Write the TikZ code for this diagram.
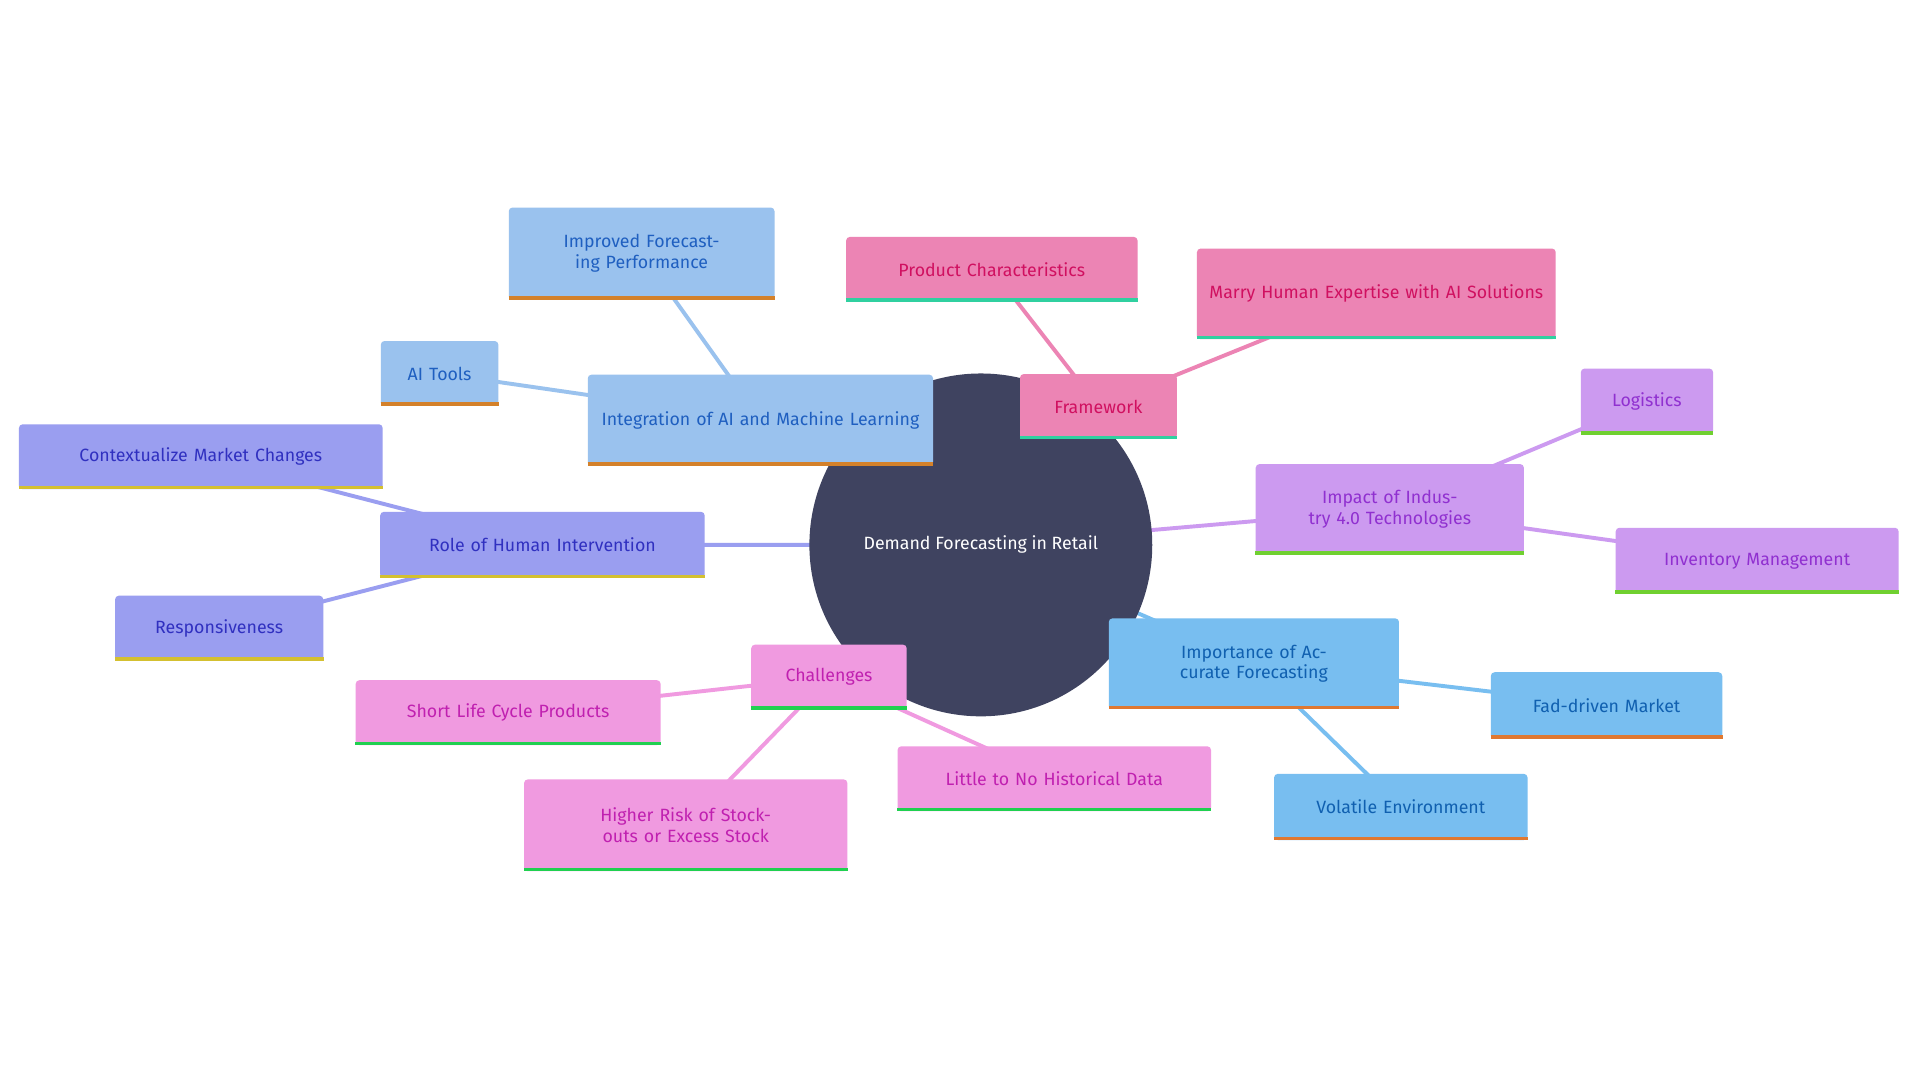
\documentclass[tikz,border=0pt]{standalone}
\usepackage{fontspec}
\setmainfont{Fira Sans}
\usetikzlibrary{backgrounds}
\definecolor{cdark}{HTML}{3F4360}
\definecolor{fA}{HTML}{9AC2EE}\definecolor{tA}{HTML}{1F5FC0}\definecolor{bA}{HTML}{D4812A}
\definecolor{fB}{HTML}{9A9EF0}\definecolor{tB}{HTML}{3030C0}\definecolor{bB}{HTML}{D4C030}
\definecolor{fC}{HTML}{EC84B4}\definecolor{tC}{HTML}{D01060}\definecolor{bC}{HTML}{30D0A0}
\definecolor{fD}{HTML}{CC9AF0}\definecolor{tD}{HTML}{9030D0}\definecolor{bD}{HTML}{70D030}
\definecolor{fE}{HTML}{78BEF0}\definecolor{tE}{HTML}{1060B0}\definecolor{bE}{HTML}{E07830}
\definecolor{fF}{HTML}{F09AE0}\definecolor{tF}{HTML}{C020B0}\definecolor{bF}{HTML}{20D050}
\newcommand\mnode[8]{%
 \node[box, fill=f#6, text=t#6, minimum width=#4pt, minimum height=#5pt, text width=#4pt-16pt] (#1) at (#2,#3) {#7};
 \draw[line width=3pt, b#6] ([yshift=1.5pt]#1.south west) -- ([yshift=1.5pt]#1.south east);}
\begin{document}
\begin{tikzpicture}[x=1pt,y=-1pt,
 box/.style={rounded corners=3pt, inner sep=0pt, align=center, font=\fontsize{14.5}{17}\selectfont},
 edge/.style={line width=3.2pt}]
\useasboundingbox (0,0) rectangle (1568,882);
\fill[white] (0,0) rectangle (1568,882);
\coordinate (root) at (801,445);
% nodes coordinates for edges
\coordinate (A) at (621,343); \coordinate (A1) at (524,207); \coordinate (A2) at (359,305);
\coordinate (B) at (443,445); \coordinate (B1) at (164,373); \coordinate (B2) at (179,513);
\coordinate (C) at (897,332); \coordinate (C1) at (810,220); \coordinate (C2) at (1124,240);
\coordinate (D) at (1135,416); \coordinate (D1) at (1345,328); \coordinate (D2) at (1435,458);
\coordinate (E) at (1024,542); \coordinate (E1) at (1312,576); \coordinate (E2) at (1144,659);
\coordinate (F) at (677,553); \coordinate (F1) at (415,582); \coordinate (F2) at (560,674); \coordinate (F3) at (861,636);
\draw[edge,fA] (root)--(A) (A)--(A1) (A)--(A2);
\draw[edge,fB] (root)--(B) (B)--(B1) (B)--(B2);
\draw[edge,fC] (root)--(C) (C)--(C1) (C)--(C2);
\draw[edge,fD] (root)--(D) (D)--(D1) (D)--(D2);
\draw[edge,fE] (root)--(E) (E)--(E1) (E)--(E2);
\draw[edge,fF] (root)--(F) (F)--(F1) (F)--(F2) (F)--(F3);
\node[circle, fill=cdark, minimum size=280pt, text=white, font=\fontsize{14.5}{17}\selectfont] (rootn) at (root) {Demand Forecasting in Retail};
\mnode{nA}{621}{343}{282}{74}{A}{Integration of AI and Machine Learning}{}
\mnode{nA1}{524}{207}{217}{75}{A}{Improved Forecasting Performance}{}
\mnode{nA2}{359}{305}{96}{53}{A}{AI Tools}{}
\mnode{nB}{443}{445}{265}{54}{B}{Role of Human Intervention}{}
\mnode{nB1}{164}{373}{297}{53}{B}{Contextualize Market Changes}{}
\mnode{nB2}{179}{513}{170}{53}{B}{Responsiveness}{}
\mnode{nC}{897}{332}{128}{53}{C}{Framework}{}
\mnode{nC1}{810}{220}{238}{53}{C}{Product Characteristics}{}
\mnode{nC2}{1124}{240}{293}{74}{C}{Marry Human Expertise with AI Solutions}{}
\mnode{nD}{1135}{416}{219}{74}{D}{Impact of Industry 4.0 Technologies}{}
\mnode{nD1}{1345}{328}{108}{54}{D}{Logistics}{}
\mnode{nD2}{1435}{458}{231}{54}{D}{Inventory Management}{}
\mnode{nE}{1024}{542}{237}{74}{E}{Importance of Accurate Forecasting}{}
\mnode{nE1}{1312}{576}{189}{54}{E}{Fad-driven Market}{}
\mnode{nE2}{1144}{659}{207}{54}{E}{Volatile Environment}{}
\mnode{nF}{677}{553}{127}{53}{F}{Challenges}{}
\mnode{nF1}{415}{582}{249}{53}{F}{Short Life Cycle Products}{}
\mnode{nF2}{560}{674}{264}{75}{F}{Higher Risk of Stockouts or Excess Stock}{}
\mnode{nF3}{861}{636}{256}{53}{F}{Little to No Historical Data}{}
\end{tikzpicture}
\end{document}
